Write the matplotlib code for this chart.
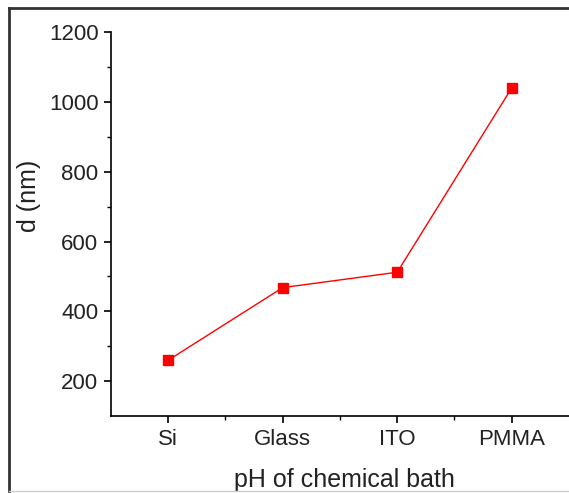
import matplotlib
matplotlib.use("Agg")
import matplotlib.pyplot as plt
from matplotlib.lines import Line2D
from matplotlib.ticker import FixedLocator

substrates = ["Si", "Glass", "ITO", "PMMA"]
thickness = [260, 468, 512, 1040]
yticks = [200, 400, 600, 800, 1000, 1200]

plt.rcParams['font.family'] = ['Liberation Sans', 'DejaVu Sans']

fig = plt.figure(figsize=(5.69, 4.93), dpi=100)
ax = fig.add_axes([0.195, 0.156, 0.805, 0.779])

x = list(range(1, len(substrates) + 1))
ax.plot(x, thickness, color='#ff0000', lw=1.0, marker='s', ms=6.5, mec='#ff0000', mfc='#ff0000')

ax.set_xlim(0.5, 4.5)
ax.set_ylim(100, 1200)
ax.set_xticks(x)
ax.set_xticklabels(substrates)
ax.xaxis.set_minor_locator(FixedLocator([1.5, 2.5, 3.5]))
ax.set_yticks(yticks)
ax.yaxis.set_minor_locator(FixedLocator([300, 500, 700, 900, 1100]))

for s in ['top', 'right']:
    ax.spines[s].set_visible(False)
for s in ['left', 'bottom']:
    ax.spines[s].set_linewidth(1.2)

ax.tick_params(which='major', direction='out', length=5, width=1.2, labelsize=16, colors='black', labelcolor='#222222', pad=4)
ax.tick_params(which='minor', direction='out', length=3, width=1.0)
for lab in ax.get_yticklabels() + ax.get_xticklabels():
    lab.set_fontstretch('condensed')

ax.set_xlabel("pH of chemical bath", fontsize=18, color='#222222')
ax.set_ylabel("d (nm)", fontsize=18, color='#222222')
ax.xaxis.set_label_coords(0.51, -0.135)
ax.yaxis.set_label_coords(-0.152, 0.573)

# outer frame
fig.add_artist(Line2D([9/569, 9/569], [0, 1 - 8/493], transform=fig.transFigure, color='#333333', lw=2))
fig.add_artist(Line2D([9/569, 1], [1 - 8/493, 1 - 8/493], transform=fig.transFigure, color='#333333', lw=2))
fig.add_artist(Line2D([9/569, 1], [2/493, 2/493], transform=fig.transFigure, color='#cccccc', lw=1))

fig.savefig("out.png", dpi=100)
